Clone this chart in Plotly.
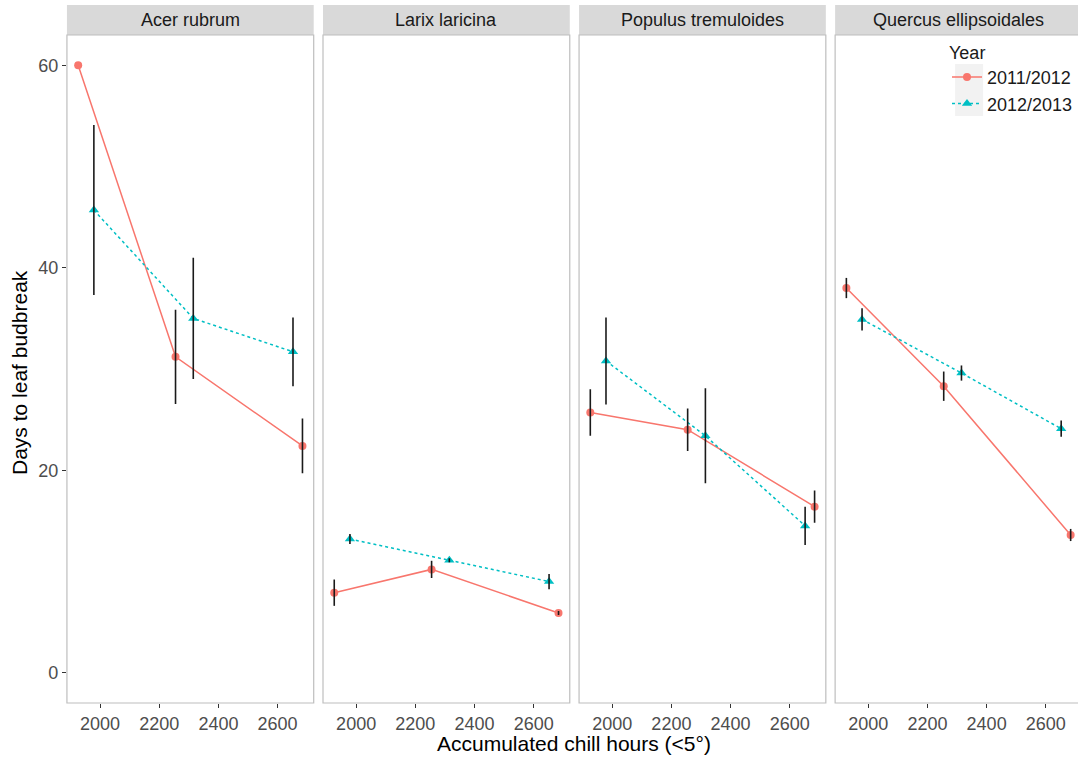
import plotly.graph_objects as go

# Species facets and the two winters compared
species = ["Acer rubrum", "Larix laricina", "Populus tremuloides", "Quercus ellipsoidales"]
years = ["2011/2012", "2012/2013"]

# Accumulated chill hours (<5°) for each treatment, per winter
chill_2011 = [1926, 2255, 2684]
chill_2012 = [1979, 2315, 2652]

# Mean days to leaf budbreak, one row per species
days_2011 = [
    [60.0, 31.2, 22.4],
    [7.9, 10.2, 5.9],
    [25.7, 24.0, 16.4],
    [38.0, 28.3, 13.6],
]
days_2012 = [
    [45.7, 35.0, 31.7],
    [13.2, 11.1, 9.0],
    [30.8, 23.4, 14.5],
    [34.9, 29.6, 24.1],
]

# Standard errors, same layout as the means
err_2011 = [
    [0.0, 4.65, 2.7],
    [1.3, 0.85, 0.2],
    [2.3, 2.1, 1.6],
    [1.0, 1.45, 0.6],
]
err_2012 = [
    [8.4, 6.0, 3.4],
    [0.5, 0.2, 0.75],
    [4.3, 4.7, 1.9],
    [1.1, 0.75, 0.8],
]

x_ticks = [2000, 2200, 2400, 2600]
y_ticks = [0, 20, 40, 60]

W, H = 1078, 759
RED, CYAN = "#F8766D", "#00BFC4"
FONT = "Liberation Sans, Arial, sans-serif"


def px_x(p):
    return p / W


def px_y(p):
    return (H - p) / H


# Panel geometry (pixels)
panel_left0, panel_w, panel_step = 67.0, 247.0, 256.3
panel_top, panel_bottom = 35.0, 703.0
strip_top = 5.0
x_range = [1888, 2722]
units_per_px = (x_range[1] - x_range[0]) / panel_w

fig = go.Figure()
layout = dict(
    width=W, height=H, autosize=False,
    margin=dict(l=0, r=0, t=0, b=0),
    paper_bgcolor="white", plot_bgcolor="white",
    font=dict(family=FONT, color="#1A1A1A"),
    showlegend=True,
)
shapes = []
annotations = []

for i, sp in enumerate(species):
    left = panel_left0 + i * panel_step
    right = left + panel_w
    dom_right = min(right, W)
    xr = [x_range[0], x_range[0] + (dom_right - left) * units_per_px]
    xa = "xaxis" if i == 0 else f"xaxis{i + 1}"
    ya = "yaxis" if i == 0 else f"yaxis{i + 1}"
    xref = "x" if i == 0 else f"x{i + 1}"
    yref = "y" if i == 0 else f"y{i + 1}"

    layout[xa] = dict(
        domain=[px_x(left), px_x(dom_right)], range=xr, anchor=yref,
        tickvals=x_ticks, ticks="outside", ticklen=4, tickwidth=1,
        tickcolor="#333333", showgrid=False, zeroline=False, showline=False,
        tickfont=dict(size=18, color="#4D4D4D", family=FONT),
    )
    layout[ya] = dict(
        domain=[px_y(panel_bottom), px_y(panel_top)], range=[-3, 63],
        anchor=xref, tickvals=y_ticks, showgrid=False, zeroline=False,
        showline=False, showticklabels=(i == 0),
        ticks="outside" if i == 0 else "", ticklen=4, tickwidth=1,
        tickcolor="#333333",
        tickfont=dict(size=18, color="#4D4D4D", family=FONT),
    )

    # panel border
    shapes.append(dict(
        type="rect", xref="paper", yref="paper",
        x0=px_x(left), x1=px_x(right), y0=px_y(panel_bottom), y1=px_y(panel_top),
        line=dict(color="#BEBEBE", width=1.2), fillcolor="rgba(0,0,0,0)", layer="above",
    ))
    # facet strip
    shapes.append(dict(
        type="rect", xref="paper", yref="paper",
        x0=px_x(left), x1=px_x(right), y0=px_y(panel_top), y1=px_y(strip_top),
        line=dict(width=0), fillcolor="#D9D9D9", layer="below",
    ))
    annotations.append(dict(
        text=sp, xref="paper", yref="paper",
        x=px_x((left + right) / 2), y=px_y((strip_top + panel_top) / 2),
        xanchor="center", yanchor="middle", showarrow=False,
        font=dict(size=18, color="#1A1A1A", family=FONT),
    ))

    for yr, xs, ys, es, color, dash, sym, msize in [
        (years[0], chill_2011, days_2011[i], err_2011[i], RED, "solid", "circle", 8),
        (years[1], chill_2012, days_2012[i], err_2012[i], CYAN, "dot", "triangle-up", 9),
    ]:
        fig.add_trace(go.Scatter(
            x=xs, y=ys, mode="lines+markers", name=yr, legendgroup=yr,
            showlegend=(i == 0), xaxis=xref, yaxis=yref, cliponaxis=False,
            line=dict(color=color, width=1.5, dash=dash),
            marker=dict(color=color, size=msize, symbol=sym),
        ))
    # error bars drawn over the points
    for xs, ys, es in [
        (chill_2011, days_2011[i], err_2011[i]),
        (chill_2012, days_2012[i], err_2012[i]),
    ]:
        fig.add_trace(go.Scatter(
            x=xs, y=ys, mode="markers", showlegend=False, hoverinfo="skip",
            xaxis=xref, yaxis=yref, cliponaxis=False,
            marker=dict(size=1, color="rgba(0,0,0,0)"),
            error_y=dict(type="data", array=es, visible=True, color="#1A1A1A",
                         thickness=1.6, width=0),
        ))

# legend key backgrounds
for top, bottom in [(64, 90), (90, 116)]:
    shapes.append(dict(
        type="rect", xref="paper", yref="paper",
        x0=px_x(956), x1=px_x(984), y0=px_y(bottom), y1=px_y(top),
        line=dict(width=0), fillcolor="#F2F2F2", layer="below",
    ))

# axis titles
annotations.append(dict(
    text="Accumulated chill hours (<5°)", xref="paper", yref="paper",
    x=px_x(575), y=px_y(743), xanchor="center", yanchor="middle",
    showarrow=False, font=dict(size=21, color="#000000", family=FONT),
))
annotations.append(dict(
    text="Days to leaf budbreak", xref="paper", yref="paper",
    x=px_x(20), y=px_y(372), xanchor="center", yanchor="middle",
    textangle=-90, showarrow=False, font=dict(size=21, color="#000000", family=FONT),
))

layout["shapes"] = shapes
layout["annotations"] = annotations
layout["legend"] = dict(
    x=px_x(948), y=px_y(35.5), xanchor="left", yanchor="top",
    bgcolor="rgba(0,0,0,0)", borderwidth=0,
    title=dict(text="Year", font=dict(size=18, family=FONT, color="#1A1A1A")),
    font=dict(size=18, family=FONT, color="#1A1A1A"),
    itemwidth=30, tracegroupgap=0,
)
fig.update_layout(**layout)
fig.write_html("out.html")
